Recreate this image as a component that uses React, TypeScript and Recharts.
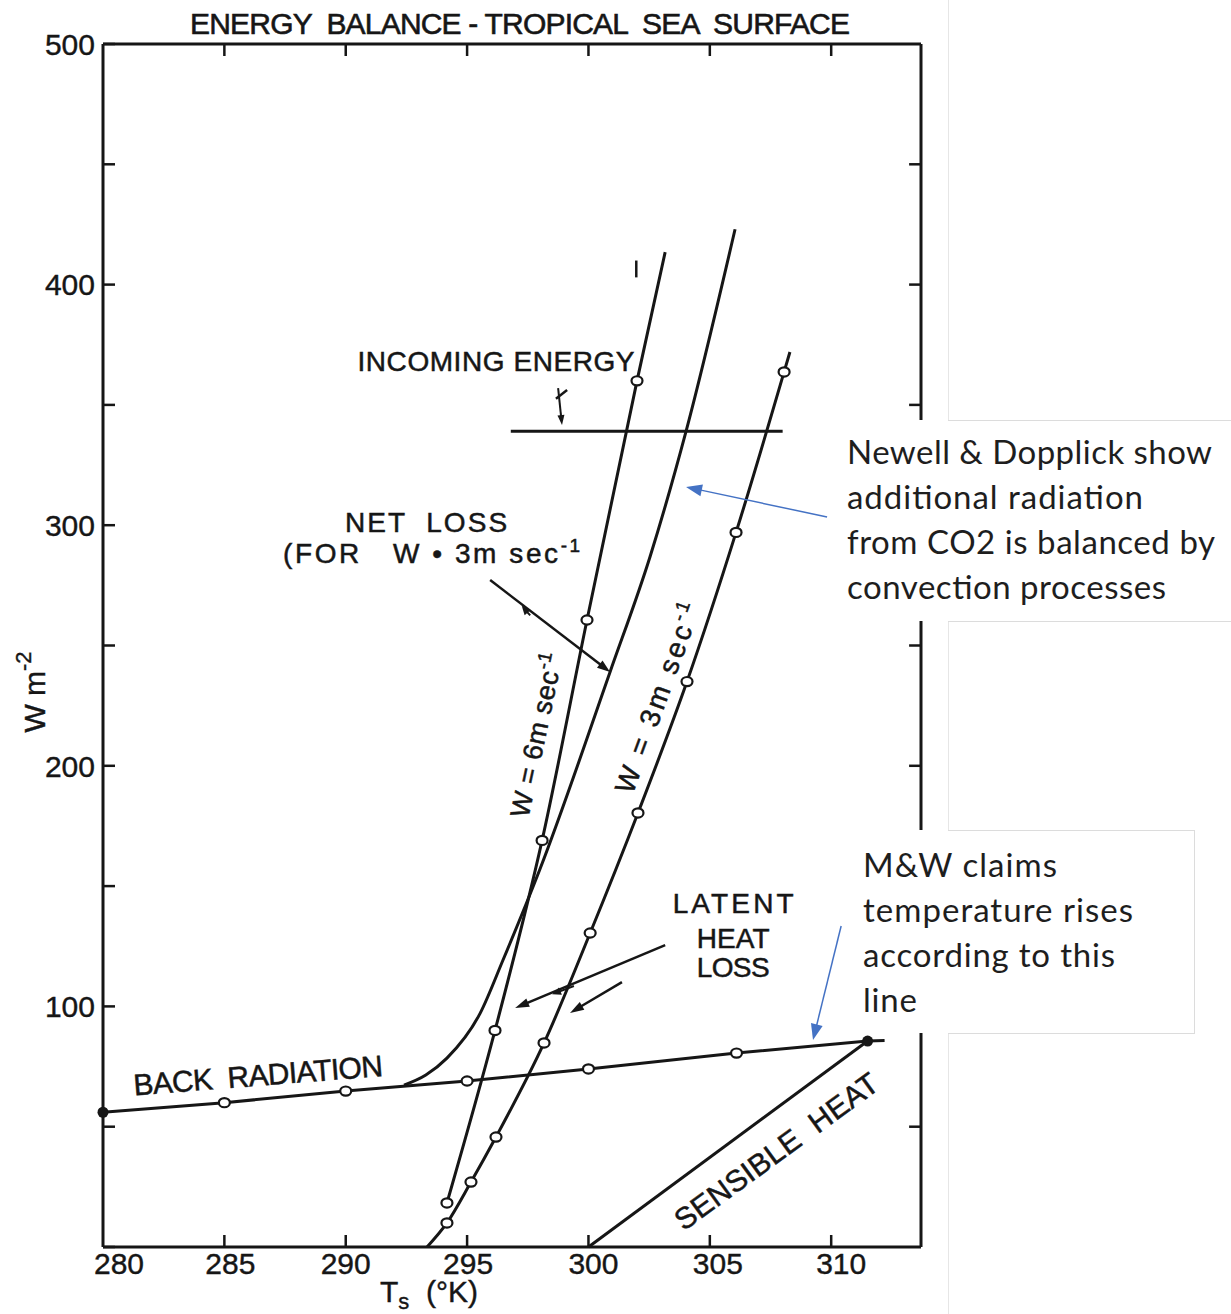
import React from 'react';
import { ComposedChart, Line, XAxis, YAxis, ReferenceLine, ReferenceDot } from 'recharts';

// ---------- data (T in K, flux in W m^-2) ----------
const xDomain = [280, 313.7];
const yDomain = [0, 500];
const xTicks = [280, 285, 290, 295, 300, 305, 310];
const xInnerTicks = [285, 290, 295, 300, 305, 310];
const yTicks = [0, 50, 100, 150, 200, 250, 300, 350, 400, 450, 500];
const yRightTicks = [50, 100, 150, 200, 250, 300, 350, 400, 450];
const yLabelled = [100, 200, 300, 400, 500];

// m: 'o' open circle, 'f' filled dot
const backRadiation = [
  { t: 280, w: 56, m: 'f' },
  { t: 285, w: 60, m: 'o' },
  { t: 290, w: 64.8, m: 'o' },
  { t: 295, w: 69, m: 'o' },
  { t: 300, w: 74, m: 'o' },
  { t: 306.1, w: 80.6, m: 'o' },
  { t: 311.5, w: 85.6, m: 'f' },
  { t: 312.2, w: 85.8 },
];
const latentW6 = [
  { t: 294.17, w: 18.3, m: 'o' },
  { t: 296.15, w: 90, m: 'o' },
  { t: 298.09, w: 169, m: 'o' },
  { t: 299.94, w: 260.6, m: 'o' },
  { t: 302.0, w: 360, m: 'o' },
  { t: 303.16, w: 413.5 },
];
const latentW3 = [
  { t: 293.35, w: 0 },
  { t: 294.17, w: 10, m: 'o' },
  { t: 295.16, w: 27, m: 'o' },
  { t: 296.19, w: 45.7, m: 'o' },
  { t: 298.17, w: 84.8, m: 'o' },
  { t: 300.07, w: 130.5, m: 'o' },
  { t: 302.04, w: 180.4, m: 'o' },
  { t: 304.06, w: 235, m: 'o' },
  { t: 306.08, w: 297, m: 'o' },
  { t: 308.06, w: 363.7, m: 'o' },
  { t: 308.3, w: 372 },
];
const netLossW3 = [
  { t: 292.4, w: 67.3 },
  { t: 293.3, w: 71.5 },
  { t: 294.17, w: 78.5 },
  { t: 295.53, w: 97 },
  { t: 296.48, w: 119.3 },
  { t: 298.0, w: 157 },
  { t: 300.89, w: 239 },
  { t: 302.54, w: 287 },
  { t: 304.02, w: 339 },
  { t: 306.04, w: 423 },
];
const sensibleHeat = [
  { t: 300, w: 0 },
  { t: 311.5, w: 85.6 },
];
const incomingEnergy = [
  { t: 296.8, w: 339 },
  { t: 308, w: 339 },
];

// annotation arrows [from, to] in data units
const netLossArrow = [{ x: 295.95, y: 277.2 }, { x: 300.89, y: 239 }];
const netLossBarb = [{ x: 297.6, y: 262.5 }, { x: 297.25, y: 266.5 }];
const latentArrowA = [{ x: 303.16, y: 125.5 }, { x: 296.98, y: 99.3 }];
const latentBarbA = [{ x: 299.4, y: 108.5 }, { x: 298.5, y: 105 }];
const latentArrowB = [{ x: 301.38, y: 110.1 }, { x: 299.24, y: 97.3 }];
const incomingArrow = [{ x: 298.75, y: 357 }, { x: 298.91, y: 341.6 }];
const incomingHook = [{ x: 298.66, y: 352.6 }, { x: 299.12, y: 356.2 }];
const strayMark = [{ x: 301.97, y: 403 }, { x: 301.97, y: 410 }];
const newellArrow = [{ x: 309.83, y: 303.4 }, { x: 304.02, y: 315.9 }];
const mwArrow = [{ x: 310.41, y: 133.4 }, { x: 309.25, y: 86 }];

// inward tick length in data units (≈12 px)
const TICK_W = 5;
const TICK_T = 0.49;

// ---------- styles ----------
const INK = '#161616';
const BLUE = '#4472c4';
const SCAN = "'Liberation Sans', Arial, sans-serif";
const NOTE = "Lato, 'Open Sans', sans-serif";

const markDot = (p: any) => {
  const { cx, cy, payload, index } = p;
  const k = `d-${index}-${cx}-${cy}`;
  if (!payload || !payload.m) return <g key={k} />;
  if (payload.m === 'f') return <circle key={k} cx={cx} cy={cy} r={5.5} fill={INK} />;
  return <ellipse key={k} cx={cx} cy={cy} rx={5.5} ry={4.6} fill="#fff" stroke={INK} strokeWidth={2.2} />;
};

const arrowShape = (color: string, hl: number, hw: number, sw: number) => (p: any) => {
  const x1 = Number(p.x1), y1 = Number(p.y1), x2 = Number(p.x2), y2 = Number(p.y2);
  const dx = x2 - x1, dy = y2 - y1;
  const len = Math.hypot(dx, dy) || 1;
  const ux = dx / len, uy = dy / len;
  const bx = x2 - ux * hl, by = y2 - uy * hl;
  const pts = `${x2},${y2} ${bx - (uy * hw) / 2},${by + (ux * hw) / 2} ${bx + (uy * hw) / 2},${by - (ux * hw) / 2}`;
  return (
    <g>
      <line x1={x1} y1={y1} x2={bx + ux * 2} y2={by + uy * 2} stroke={color} strokeWidth={sw} />
      <polygon points={pts} fill={color} />
    </g>
  );
};

const plainShape = (p: any) => (
  <line x1={p.x1} y1={p.y1} x2={p.x2} y2={p.y2} stroke={INK} strokeWidth={2.5} />
);

const XTick = (p: any) => {
  const v = p.payload?.value;
  const nudge: Record<number, number> = { 280: 16, 285: 6, 290: 0, 295: 1, 300: 5, 305: 8, 310: 10 };
  return (
    <text x={p.x + (nudge[v] ?? 0)} y={p.y} dy="0.72em" textAnchor="middle" fontFamily={SCAN} fontSize={30} fill={INK} stroke={INK} strokeWidth={0.4}>
      {v}
    </text>
  );
};

const YTick = (p: any) => {
  const v = p.payload?.value;
  if (!yLabelled.includes(v)) return <g />;
  return (
    <text x={p.x} y={p.y} dy="0.36em" textAnchor="end" fontFamily={SCAN} fontSize={30} fill={INK} stroke={INK} strokeWidth={0.4}>
      {v}
    </text>
  );
};

const EmptyTick = () => <g />;

const label = (
  content: React.ReactNode,
  opts: { rot?: number; len?: number; size?: number; anchor?: 'middle' | 'start' } = {}
) => (p: any) => {
  const { rot = 0, len, size = 27, anchor = 'middle' } = opts;
  return (
    <text
      x={p.cx}
      y={p.cy}
      dy="0.36em"
      textAnchor={anchor}
      fontFamily={SCAN}
      fontSize={size}
      fill={INK}
      stroke={INK}
      strokeWidth={0.5}
      transform={rot ? `rotate(${rot} ${p.cx} ${p.cy})` : undefined}
      textLength={len}
      lengthAdjust="spacing"
      style={{ whiteSpace: 'pre' }}
    >
      {content}
    </text>
  );
};

const sup = (s: string) => (
  <tspan dy={-11} fontSize={19}>
    {s}
  </tspan>
);

export default function App() {
  const axisLine = { stroke: INK, strokeWidth: 3 };
  const tickLine = { stroke: INK, strokeWidth: 2.5 };
  const newellLines = [
    { s: 'Newell & Dopplick show', len: 365 },
    { s: 'additional radiation', len: 296 },
    { s: 'from CO2 is balanced by', len: 368 },
    { s: 'convection processes', len: 319 },
  ];
  const mwLines = [
    { s: 'M&W claims', len: 194 },
    { s: 'temperature rises', len: 270 },
    { s: 'according to this', len: 252 },
    { s: 'line', len: 54 },
  ];
  return (
    <div style={{ position: 'absolute', left: 0, top: 0, width: 1231, height: 1314, background: '#fff' }}>
      <ComposedChart width={1231} height={1314} margin={{ top: 40, right: 300, bottom: 17, left: 43 }}>
        <XAxis
          type="number"
          dataKey="t"
          domain={xDomain}
          ticks={xTicks}
          interval={0}
          height={50}
          tickSize={0}
          tickMargin={5}
          tick={<XTick />}
          axisLine={axisLine}
          tickLine={false}
        />
        <XAxis
          xAxisId="top"
          orientation="top"
          type="number"
          dataKey="t"
          domain={xDomain}
          ticks={xInnerTicks}
          interval={0}
          height={4}
          tick={<EmptyTick />}
          axisLine={axisLine}
          tickLine={false}
        />
        <YAxis
          type="number"
          dataKey="w"
          domain={yDomain}
          ticks={yTicks}
          interval={0}
          width={60}
          tickSize={-12}
          tickMargin={20}
          tick={<YTick />}
          axisLine={axisLine}
          tickLine={tickLine}
        />
        <YAxis
          yAxisId="r"
          orientation="right"
          type="number"
          domain={yDomain}
          ticks={yRightTicks}
          interval={0}
          width={10}
          tick={<EmptyTick />}
          axisLine={axisLine}
          tickLine={false}
        />

        {xInnerTicks.map((t) => (
          <ReferenceLine key={`bt${t}`} segment={[{ x: t, y: yDomain[0] }, { x: t, y: yDomain[0] + TICK_W }]} shape={plainShape} />
        ))}
        {xInnerTicks.map((t) => (
          <ReferenceLine key={`tt${t}`} segment={[{ x: t, y: yDomain[1] }, { x: t, y: yDomain[1] - TICK_W }]} shape={plainShape} />
        ))}
        {yRightTicks.map((v) => (
          <ReferenceLine key={`rt${v}`} segment={[{ x: xDomain[1], y: v }, { x: xDomain[1] - TICK_T, y: v }]} shape={plainShape} />
        ))}

        <Line data={incomingEnergy} dataKey="w" type="linear" stroke={INK} strokeWidth={3} dot={false} isAnimationActive={false} />
        <Line data={sensibleHeat} dataKey="w" type="linear" stroke={INK} strokeWidth={3} dot={false} isAnimationActive={false} />
        <Line data={netLossW3} dataKey="w" type="monotone" stroke={INK} strokeWidth={3} dot={false} isAnimationActive={false} />
        <Line data={backRadiation} dataKey="w" type="linear" stroke={INK} strokeWidth={3} dot={markDot} isAnimationActive={false} />
        <Line data={latentW6} dataKey="w" type="monotone" stroke={INK} strokeWidth={3} dot={markDot} isAnimationActive={false} />
        <Line data={latentW3} dataKey="w" type="monotone" stroke={INK} strokeWidth={3} dot={markDot} isAnimationActive={false} />

        <ReferenceLine segment={netLossArrow} shape={arrowShape(INK, 13, 9, 2.5)} />
        <ReferenceLine segment={netLossBarb} shape={arrowShape(INK, 9, 8, 2)} />
        <ReferenceLine segment={latentArrowA} shape={arrowShape(INK, 14, 9, 2.5)} />
        <ReferenceLine segment={latentBarbA} shape={arrowShape(INK, 9, 8, 2)} />
        <ReferenceLine segment={latentArrowB} shape={arrowShape(INK, 14, 9, 2.5)} />
        <ReferenceLine segment={incomingArrow} shape={arrowShape(INK, 10, 7, 2)} />
        <ReferenceLine segment={incomingHook} shape={plainShape} />
        <ReferenceLine segment={strayMark} shape={plainShape} />
        <ReferenceLine segment={newellArrow} shape={arrowShape(BLUE, 16, 12, 1.5)} />
        <ReferenceLine segment={mwArrow} shape={arrowShape(BLUE, 16, 12, 1.5)} />

        <ReferenceDot x={296.19} y={368.2} r={0} shape={label('INCOMING ENERGY', { len: 277, size: 28 })} />
        <ReferenceDot x={293.31} y={301.3} r={0} shape={label('NET  LOSS', { len: 162, size: 28 })} />
        <ReferenceDot
          x={287.42}
          y={288.4}
          r={0}
          shape={label(<>(FOR   W • 3m sec{sup('-1')}</>, { len: 297, size: 28, anchor: 'start' })}
        />
        <ReferenceDot x={305.96} y={143} r={0} shape={label('LATENT', { len: 121, size: 28 })} />
        <ReferenceDot x={305.96} y={128.4} r={0} shape={label('HEAT', { len: 73, size: 28 })} />
        <ReferenceDot x={305.96} y={116.4} r={0} shape={label('LOSS', { len: 73, size: 28 })} />
        <ReferenceDot x={286.39} y={71.5} r={0} shape={label('BACK  RADIATION', { rot: -4.5, len: 250, size: 30 })} />
        <ReferenceDot x={307.73} y={39.9} r={0} shape={label('SENSIBLE  HEAT', { rot: -36, len: 244, size: 30 })} />
        <ReferenceDot
          x={297.84}
          y={212.8}
          r={0}
          shape={label(<>W = 6m sec{sup('-1')}</>, { rot: -78, len: 167, size: 27 })}
        />
        <ReferenceDot
          x={302.83}
          y={228.2}
          r={0}
          shape={label(<>W = 3m sec{sup('-1')}</>, { rot: -70, len: 200, size: 28 })}
        />
      </ComposedChart>

      <svg width={1231} height={1314} style={{ position: 'absolute', left: 0, top: 0, pointerEvents: 'none' }}>
        <text x={520} y={34} textAnchor="middle" fontFamily={SCAN} fontSize={30} fill={INK} stroke={INK} strokeWidth={0.6} textLength={660} lengthAdjust="spacing" style={{ whiteSpace: 'pre' }}>
          ENERGY  BALANCE - TROPICAL  SEA  SURFACE
        </text>
        <text transform="translate(45 692) rotate(-90)" textAnchor="middle" fontFamily={SCAN} fontSize={30} fill={INK} stroke={INK} strokeWidth={0.4}>
          W m<tspan dy={-14} fontSize={22}>-2</tspan>
        </text>
        <text x={380} y={1302} fontFamily={SCAN} fontSize={30} fill={INK} stroke={INK} strokeWidth={0.4} style={{ whiteSpace: 'pre' }}>
          T<tspan dy={7} fontSize={22}>s</tspan>
          <tspan dy={-7}>  (°K)</tspan>
        </text>

        <line x1={948.5} y1={0} x2={948.5} y2={1314} stroke="#e6e6e6" strokeWidth={1} />

        <rect x={835} y={420} width={396} height={201} fill="#fff" />
        <line x1={948} y1={420.5} x2={1231} y2={420.5} stroke="#dcdcdc" strokeWidth={1} />
        <line x1={948} y1={621.5} x2={1231} y2={621.5} stroke="#dcdcdc" strokeWidth={1} />
        {newellLines.map((l, i) => (
          <text key={l.s} x={847} y={464 + i * 45} fontFamily={NOTE} fontSize={33} fill="#1e1e1e" textLength={l.len} lengthAdjust="spacing">
            {l.s}
          </text>
        ))}

        <rect x={848} y={830} width={347} height={203} fill="#fff" />
        <line x1={948} y1={830.5} x2={1195} y2={830.5} stroke="#dcdcdc" strokeWidth={1} />
        <line x1={1194.5} y1={830} x2={1194.5} y2={1033} stroke="#dcdcdc" strokeWidth={1} />
        <line x1={948} y1={1033.5} x2={1195} y2={1033.5} stroke="#dcdcdc" strokeWidth={1} />
        {mwLines.map((l, i) => (
          <text key={l.s} x={863} y={877 + i * 45} fontFamily={NOTE} fontSize={33} fill="#1e1e1e" textLength={l.len} lengthAdjust="spacing">
            {l.s}
          </text>
        ))}
      </svg>
    </div>
  );
}
